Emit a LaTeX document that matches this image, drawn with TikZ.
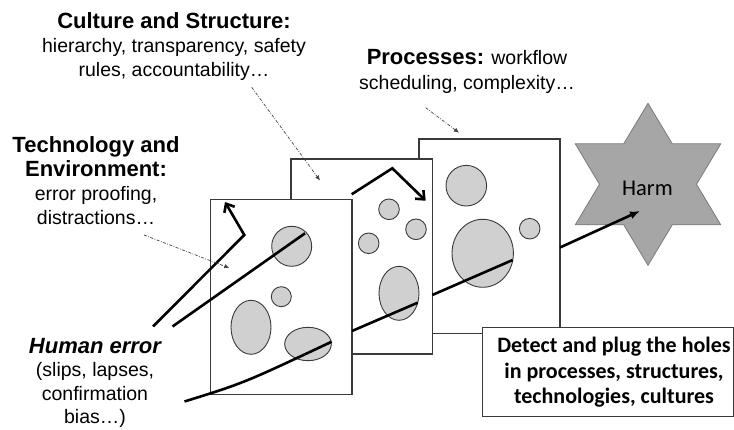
\documentclass[tikz,border=0pt]{standalone}
\usepackage{fontspec}
\setmainfont{Liberation Sans}
\newfontfamily\calfont{Carlito}
\usetikzlibrary{arrows.meta}
\definecolor{sliceline}{HTML}{3A3A3A}
\definecolor{holegray}{HTML}{D0D0D0}
\definecolor{stargray}{HTML}{A6A6A6}
\definecolor{starline}{HTML}{7A7A7A}
\definecolor{pointergray}{HTML}{454545}
\begin{document}
\begin{tikzpicture}[x=1pt,y=-1pt,
  slice/.style={draw=sliceline,fill=white,line width=1.1pt},
  hole/.style={draw=sliceline,fill=holegray,line width=0.9pt},
  ray/.style={line width=2.6pt,black,line join=miter},
  barb/.style={-{Straight Barb[length=7pt,width=12pt]}},
  harmtip/.style={-{Latex[length=10pt,width=8pt]}},
  pointer/.style={draw=pointergray,line width=0.7pt,dash pattern=on 3pt off 1.5pt on 0.8pt off 1.5pt,-{Latex[length=5pt,width=4.5pt]}},
  label/.style={align=center,inner sep=0pt,anchor=base},
]
\fill[white] (0,0) rectangle (734,430);
\useasboundingbox (0,0) rectangle (734,430);

% ---------------- slice 3 (back) ----------------
\draw[slice] (419,139) rectangle (560,333.3);
\draw[hole] (466.3,185.7) circle [radius=20.3];
\draw[hole] (482.7,253.3) ellipse [x radius=30.7, y radius=34];
\draw[hole] (529.7,228.7) circle [radius=10.3];

% ---------------- slice 2 (middle) ----------------
\draw[slice] (291,159) rectangle (432.3,354);
\draw[hole] (389,209.3) circle [radius=10.3];
\draw[hole] (416,229.3) circle [radius=10.3];
\draw[hole] (368.7,243.3) circle [radius=10.3];
\draw[hole] (399,293.3) ellipse [x radius=20, y radius=27];

% ---------------- slice 1 (front) ----------------
\draw[slice] (210.7,199.3) rectangle (352,394.3);
\draw[hole] (291.7,246.3) circle [radius=20];
\draw[hole] (281.3,296.7) circle [radius=10];
\draw[hole] (251,327.3) ellipse [x radius=20, y radius=27];
\draw[hole] (308,344) ellipse [x radius=23.3, y radius=16.7];

% ---------------- harm star ----------------
\coordinate (starc) at (648,184.3);
\draw[fill=stargray,draw=starline,line width=0.8pt]
  (starc) +(90:84 and 81) -- +(60:48.5 and 46.8) -- +(30:84 and 81) -- +(0:48.5 and 46.8)
  -- +(-30:84 and 81) -- +(-60:48.5 and 46.8) -- +(-90:84 and 81) -- +(-120:48.5 and 46.8)
  -- +(-150:84 and 81) -- +(180:48.5 and 46.8) -- +(150:84 and 81) -- +(120:48.5 and 46.8) -- cycle;
\node[label,font=\calfont\fontsize{22.5}{24}\selectfont] (harm) at (647.5,195.5) {Harm};

% ---------------- detect box ----------------
\draw[draw=sliceline,fill=white,line width=1pt] (482,327.7) rectangle (733,416.7);
\node[label,font=\calfont\fontsize{22}{25.3}\selectfont\bfseries] (detect) at (614,403.3)
  {Detect and plug the holes\\in processes, structures,\\technologies, cultures};

% ---------------- error trajectories ----------------
\coordinate (r1a) at (153,326.5);
\coordinate (r1b) at (244.3,235);
\coordinate (r1c) at (225,202);
\draw[ray,barb] (r1a) -- (r1b) -- (r1c);

\coordinate (r2a) at (172.5,326.5);
\coordinate (r2b) at (305,233.3);
\draw[ray] (r2a) -- (r2b);

\coordinate (r4a) at (351.7,194.3);
\coordinate (r4b) at (392.3,168.3);
\coordinate (r4c) at (425.7,200.7);
\draw[ray,barb] (r4a) -- (r4b) -- (r4c);

\coordinate (t1a) at (184.5,401.5);
\coordinate (t1b) at (331.7,341.7);
\draw[ray] (t1a) .. controls (244,383) .. (t1b);
\coordinate (t2a) at (352,331);
\coordinate (t2b) at (417.7,302.7);
\draw[ray] (t2a) -- (t2b);
\coordinate (t3a) at (432.3,295);
\coordinate (t3b) at (512.7,260);
\draw[ray] (t3a) -- (t3b);
\coordinate (t4a) at (560,247.5);
\coordinate (t4b) at (640,211);
\draw[ray,harmtip] (t4a) -- (t4b);

% ---------------- labels ----------------
\node[label,font=\fontsize{19.5}{24}\selectfont] (culture) at (174,76.5)
  {{\fontsize{22}{24}\selectfont\bfseries Culture and Structure:}\\hierarchy, transparency, safety\\rules, accountability…};
\node[label,font=\fontsize{19.5}{24.2}\selectfont] (tech) at (96,225)
  {{\fontsize{22}{24}\selectfont\bfseries Technology and}\\{\fontsize{22}{24}\selectfont\bfseries Environment:}\\error proofing,\\distractions…};
\node[label,font=\fontsize{19.5}{25}\selectfont] (proc) at (467,90)
  {{\fontsize{22}{24}\selectfont\bfseries Processes:} workflow\\scheduling, complexity…};
\node[label,font=\fontsize{19.5}{23.6}\selectfont] (human) at (95,424)
  {{\fontsize{22}{24}\selectfont\bfseries\itshape Human error}\\(slips, lapses,\\confirmation\\bias…)};

% ---------------- pointers ----------------
\coordinate (p1a) at (251.7,87.3);
\coordinate (p1b) at (320,180.5);
\draw[pointer] (p1a) -- (p1b);
\coordinate (p2a) at (144,235);
\coordinate (p2b) at (229.3,268);
\draw[pointer] (p2a) -- (p2b);
\coordinate (p3a) at (425.7,107.7);
\coordinate (p3b) at (459,132.7);
\draw[pointer] (p3a) -- (p3b);
\end{tikzpicture}
\end{document}
